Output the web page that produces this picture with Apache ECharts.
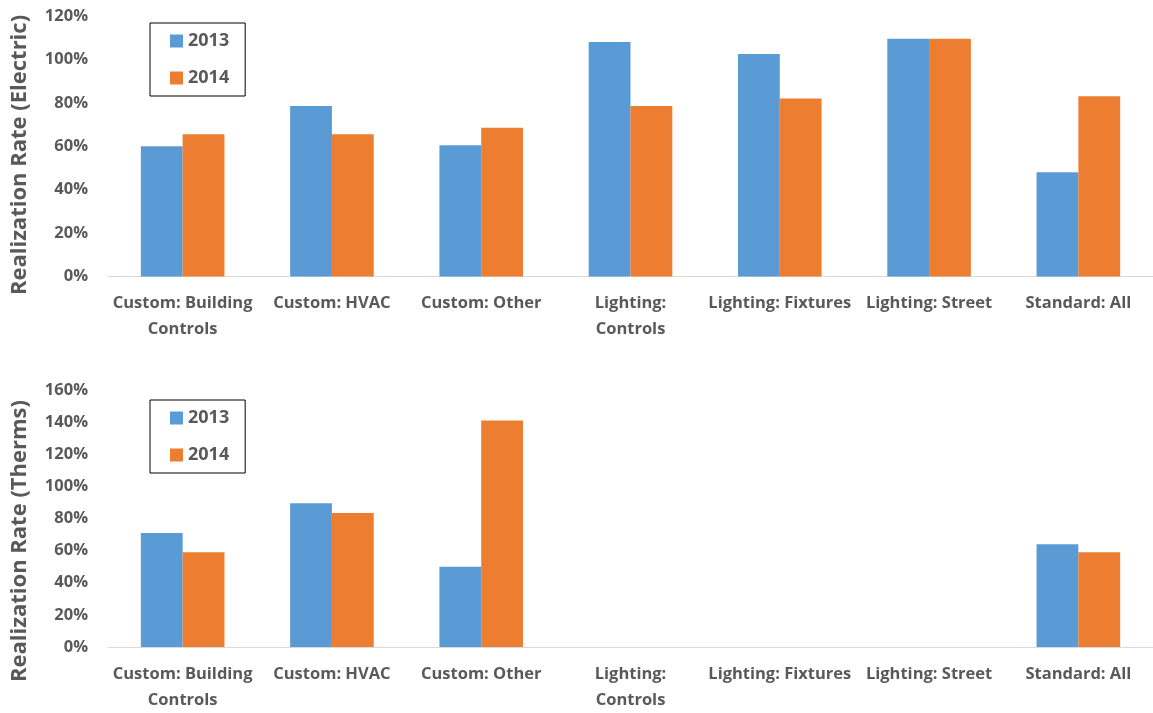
<!DOCTYPE html>
<html>
<head>
<meta charset="utf-8">
<script src="https://cdn.jsdelivr.net/npm/echarts@6/dist/echarts.min.js"></script>
<style>
  html, body { margin: 0; padding: 0; background: #fff; }
  #chart { width: 1153px; height: 713px; }
</style>
</head>
<body>
<div id="chart"></div>
<script>
// Program categories (shared by both panels)
const categories = [
  'Custom: Building\nControls',
  'Custom: HVAC',
  'Custom: Other',
  'Lighting:\nControls',
  'Lighting: Fixtures',
  'Lighting: Street',
  'Standard: All'
];
const years = ['2013', '2014'];

// Electric realization rates (%)
const electric2013 = [60, 78.5, 60.5, 108, 102.5, 109.5, 48];
const electric2014 = [65.5, 65.5, 68.5, 78.5, 82, 109.5, 83];

// Therms realization rates (%); lighting programs have no gas savings
const therms2013 = [71, 89.5, 50, null, null, null, 64];
const therms2014 = [59, 83.5, 141, null, null, null, 59];

// Axis ticks
const electricTicks = { min: 0, max: 120, interval: 20 };
const thermsTicks = { min: 0, max: 160, interval: 20 };

const BLUE = '#5B9BD5';
const ORANGE = '#ED7D31';
const TEXT = '#595959';
const FONT = '"Open Sans", "Noto Sans", sans-serif';

const grids = [
  { left: 108, width: 1050, top: 16, height: 260.5 },
  { left: 108, width: 1050, top: 390, height: 260.7 }
];

function xAxisFor(idx) {
  return {
    type: 'category',
    gridIndex: idx,
    data: categories,
    axisLine: { lineStyle: { color: '#D9D9D9', width: 1 } },
    axisTick: { show: false },
    axisLabel: {
      interval: 0,
      margin: 14,
      color: TEXT,
      fontFamily: FONT,
      fontWeight: 'bold',
      fontSize: 16.5,
      lineHeight: 26
    }
  };
}

function yAxisFor(idx, ticks) {
  return {
    type: 'value',
    gridIndex: idx,
    min: ticks.min,
    max: ticks.max,
    interval: ticks.interval,
    splitLine: { show: false },
    axisLine: { show: false },
    axisTick: { show: false },
    axisLabel: {
      formatter: v => v + '%',
      margin: 20,
      color: TEXT,
      fontFamily: FONT,
      fontWeight: 'bold',
      fontSize: 16.5
    }
  };
}

function barSeries(name, data, idx, color) {
  return {
    name: name,
    type: 'bar',
    xAxisIndex: idx,
    yAxisIndex: idx,
    data: data,
    barGap: '0%',
    barCategoryGap: '44%',
    itemStyle: { color: color }
  };
}

function legendAt(top) {
  return {
    orient: 'vertical',
    left: 150,
    top: top,
    data: years,
    borderColor: '#000',
    borderWidth: 1,
    borderRadius: 0,
    padding: [9, 16, 9, 20],
    itemGap: 19,
    itemWidth: 13,
    itemHeight: 13,
    icon: 'rect',
    textStyle: {
      color: TEXT,
      fontFamily: FONT,
      fontWeight: 'bold',
      fontSize: 18,
      lineHeight: 17
    }
  };
}

const chart = echarts.init(document.getElementById('chart'), null, { renderer: 'canvas' });

chart.setOption({
  animation: false,
  backgroundColor: '#fff',
  grid: grids,
  xAxis: [xAxisFor(0), xAxisFor(1)],
  yAxis: [yAxisFor(0, electricTicks), yAxisFor(1, thermsTicks)],
  legend: [legendAt(23), legendAt(400)],
  series: [
    barSeries('2013', electric2013, 0, BLUE),
    barSeries('2014', electric2014, 0, ORANGE),
    barSeries('2013', therms2013, 1, BLUE),
    barSeries('2014', therms2014, 1, ORANGE)
  ],
  graphic: [
    {
      type: 'text',
      x: 20, y: 155,
      rotation: Math.PI / 2,
      style: {
        text: 'Realization Rate (Electric)',
        fill: TEXT,
        font: 'bold 22px ' + FONT,
        align: 'center',
        verticalAlign: 'middle'
      }
    },
    {
      type: 'text',
      x: 20, y: 541,
      rotation: Math.PI / 2,
      style: {
        text: 'Realization Rate (Therms)',
        fill: TEXT,
        font: 'bold 22px ' + FONT,
        align: 'center',
        verticalAlign: 'middle'
      }
    }
  ]
});
</script>
</body>
</html>
